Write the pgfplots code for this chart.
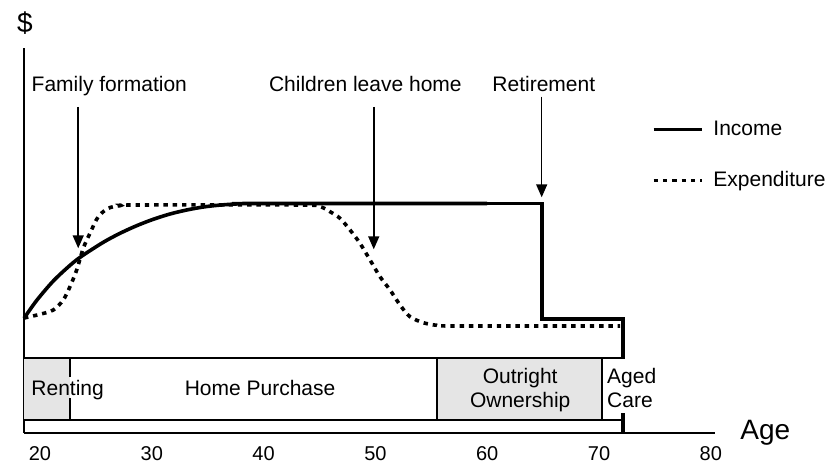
\documentclass[border=0pt]{standalone}
\usepackage{pgfplots}
\pgfplotsset{compat=1.18}
\usepackage{fontspec}
\setmainfont{Liberation Sans}
\usetikzlibrary{arrows.meta}

\newcommand{\lbl}{\fontsize{10.5}{12.6}\selectfont}
\newcommand{\bigfont}{\fontsize{14}{16.8}\selectfont}

\begin{document}
\begin{tikzpicture}
\useasboundingbox (0,0) rectangle (413.5pt,233.5pt);
\begin{axis}[
  at={(12pt,17pt)}, anchor=south west,
  scale only axis, width=345.5pt, height=192.5pt,
  xmin=18.57, xmax=80.37, ymin=0, ymax=385,
  axis lines=left,
  axis line style={-, line width=0.9pt},
  xtick={20,30,...,80}, ytick=\empty, major tick length=0pt,
  /pgf/number format/assume math mode=true,
  xticklabel style={font=\fontsize{10}{12}\selectfont, yshift=-3pt},
  clip=false,
  legend cell align=left,
  legend style={draw=none, fill=none, inner sep=0pt, outer sep=0pt,
    at={(axis cs:74.72,312.3)}, anchor=north west,
    row sep=16.4pt, column sep=5pt, font=\lbl,
    nodes={inner sep=0pt, anchor=base west}},
  legend image code/.code={\draw[#1] (0pt,2.85pt) -- (24pt,2.85pt);},
]
% life stage bands
\addplot[fill=gray!20, draw=none, forget plot] coordinates {(18.57,13) (22.68,13) (22.68,75) (18.57,75)} -- cycle;
\addplot[fill=gray!20, draw=none, forget plot] coordinates {(55.51,13) (70.27,13) (70.27,75) (55.51,75)} -- cycle;
\addplot[black, line width=0.9pt, forget plot] coordinates {(18.57,75) (72.13,75) (72.13,13) (18.57,13)};
\addplot[black, line width=0.9pt, forget plot] coordinates {(55.51,13) (55.51,75)};
\addplot[black, line width=0.9pt, forget plot] coordinates {(70.27,13) (70.27,75)};
\addplot[black, line width=0.9pt, forget plot] coordinates {(22.68,75) (22.68,56)};
\addplot[black, line width=0.9pt, forget plot] coordinates {(22.68,35) (22.68,13)};

% income
\addplot[black, line width=1.8pt, smooth] coordinates {
  (18.57,114.7) (19.70,132.5) (21.19,152) (22.68,167.6) (23.73,176.8) (25.66,190.7)
  (27.16,199.7) (28.65,207.3) (30.13,213.7) (31.63,219) (33.12,223) (34.61,226)
  (36.10,227.9) (37.89,229.2) (40,229.5) (60,229.5)};
\addlegendentry{Income}
\addplot[black, line width=1.8pt, forget plot] coordinates {
  (58,229.5) (64.9,229.5) (64.9,114) (72.13,114) (72.13,0)};

% expenditure
\addplot[black, line width=1.8pt, dash pattern=on 2.2pt off 2.45pt, smooth] coordinates {
  (18.57,115) (20.0,118.7) (21.19,123) (22.08,133) (22.68,146.3) (23.28,163)
  (23.87,184.7) (24.47,199.7) (25.21,216.3) (26.11,224.7) (27.16,227.3) (28.65,228)
  (43.26,228) (45.04,226.3) (45.94,221.3) (46.83,214.7) (47.73,203) (48.62,189.7)
  (49.52,173) (50.41,156.3) (51.31,143) (52.20,128) (53.09,116.3) (54.28,110.3)
  (55.48,107.7) (56.97,107) (71.88,107)};
\addlegendentry{Expenditure}

% aged care label sits on a white patch over the income line
\fill[white] (axis cs:70.45,20.3) rectangle (axis cs:72.45,74.1);
\node[font=\lbl, anchor=base west, inner sep=0pt] at (axis cs:70.69,49) {Aged};
\node[font=\lbl, anchor=base west, inner sep=0pt] at (axis cs:70.69,25.3) {Care};

\node[font=\lbl, anchor=base west, inner sep=0pt] at (axis cs:19.2,37) {Renting};
\node[font=\lbl, anchor=base, inner sep=0pt] at (axis cs:39.68,37) {Home Purchase};
\node[font=\lbl, anchor=base, inner sep=0pt] at (axis cs:62.95,49) {Outright};
\node[font=\lbl, anchor=base, inner sep=0pt] at (axis cs:62.95,25.3) {Ownership};

% events
\node[font=\lbl, anchor=base, inner sep=0pt] at (axis cs:26.2,341.3) {Family formation};
\node[font=\lbl, anchor=base, inner sep=0pt] at (axis cs:49.1,341.3) {Children leave home};
\node[font=\lbl, anchor=base, inner sep=0pt] at (axis cs:65.06,341.3) {Retirement};
\draw[-{Triangle[length=6.5pt,width=5.5pt]}, line width=0.75pt] (axis cs:23.42,326) -- (axis cs:23.42,184.7);
\draw[-{Triangle[length=6.5pt,width=5.5pt]}, line width=0.75pt] (axis cs:49.85,326) -- (axis cs:49.85,183.7);
\draw[-{Triangle[length=6.5pt,width=5.5pt]}, line width=0.75pt] (axis cs:64.87,336.3) -- (axis cs:64.87,235.7);

% axis titles
\node[font=\bigfont, anchor=base, inner sep=0pt] at (axis cs:18.66,400) {\$};
\node[font=\bigfont, anchor=base west, inner sep=0pt] at (axis cs:82.61,-7) {Age};
\end{axis}
\end{tikzpicture}
\end{document}
